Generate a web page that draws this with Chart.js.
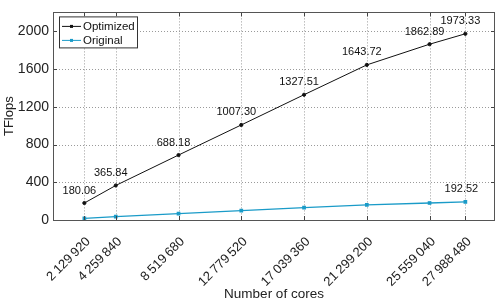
<!DOCTYPE html>
<html>
<head>
<meta charset="utf-8">
<script src="https://cdn.jsdelivr.net/npm/chart.js@4/dist/chart.umd.min.js"></script>
<style>
  html, body { margin: 0; padding: 0; background: #fff; }
  #wrap { width: 500px; height: 303px; }
</style>
</head>
<body>
<div id="wrap"><canvas id="perf"></canvas></div>
<script>
// number of cores (x positions and tick labels)
const cores = [2129920, 4259840, 8519680, 12779520, 17039360, 21299200, 25559040, 27988480];
// TFlops
const optimized = [180.06, 365.84, 688.18, 1007.30, 1327.51, 1643.72, 1862.89, 1973.33];
const original = [17, 35, 68, 100, 131, 161, 180, 192.52];
const yTicks = [0, 400, 800, 1200, 1600, 2000];

const FONT = "'Liberation Sans', Arial, Helvetica, sans-serif";

// group digits with a thin space: 2 129 920
function fmtCores(v) {
  return String(v).replace(/\B(?=(\d{3})+(?!\d))/g, '\u2009');
}

const toPoints = vals => vals.map((v, i) => ({ x: cores[i], y: v }));

// matlab look: dotted grid, frame, inward ticks, value labels, legend
const decor = {
  id: 'decor',
  beforeDatasetsDraw(chart) {
    const ctx = chart.ctx;
    const a = chart.chartArea;
    const xs = chart.scales.x, ys = chart.scales.y;
    ctx.save();
    ctx.strokeStyle = '#9a9a9a';
    ctx.lineWidth = 1;
    ctx.setLineDash([1, 2]);
    ctx.beginPath();
    cores.forEach(c => {
      const px = Math.round(xs.getPixelForValue(c)) + 0.5;
      ctx.moveTo(px, a.top); ctx.lineTo(px, a.bottom);
    });
    yTicks.forEach(t => {
      const py = Math.round(ys.getPixelForValue(t)) + 0.5;
      ctx.moveTo(a.left, py); ctx.lineTo(a.right, py);
    });
    ctx.stroke();
    ctx.restore();
  },
  afterDatasetsDraw(chart) {
    const ctx = chart.ctx;
    const a = chart.chartArea;
    const xs = chart.scales.x, ys = chart.scales.y;
    ctx.save();

    // inward tick marks
    ctx.strokeStyle = '#444';
    ctx.lineWidth = 1;
    ctx.beginPath();
    cores.forEach(c => {
      const px = Math.round(xs.getPixelForValue(c)) + 0.5;
      ctx.moveTo(px, a.bottom); ctx.lineTo(px, a.bottom - 4);
      ctx.moveTo(px, a.top); ctx.lineTo(px, a.top + 4);
    });
    yTicks.forEach(t => {
      const py = Math.round(ys.getPixelForValue(t)) + 0.5;
      ctx.moveTo(a.left, py); ctx.lineTo(a.left + 4, py);
      ctx.moveTo(a.right, py); ctx.lineTo(a.right - 4, py);
    });
    ctx.stroke();

    // box
    ctx.strokeStyle = '#555';
    ctx.lineWidth = 1;
    ctx.strokeRect(Math.round(a.left) + 0.5, Math.round(a.top) + 0.5,
      Math.round(a.right - a.left) - 1, Math.round(a.bottom - a.top));

    // value labels
    ctx.fillStyle = '#111';
    ctx.font = '11px ' + FONT;
    ctx.textAlign = 'center';
    ctx.textBaseline = 'bottom';
    chart.getDatasetMeta(0).data.forEach((pt, i) => {
      ctx.fillText(optimized[i].toFixed(2), pt.x - 5, pt.y - 7);
    });
    const origMeta = chart.getDatasetMeta(1).data;
    const last = origMeta[origMeta.length - 1];
    ctx.fillText(original[original.length - 1].toFixed(2), last.x - 4, last.y - 7);

    // legend box
    const lx = a.left + 6, ly = a.top + 4, lw = 78, lh = 31;
    ctx.fillStyle = '#fff';
    ctx.fillRect(lx, ly, lw, lh);
    ctx.strokeStyle = '#333';
    ctx.strokeRect(lx + 0.5, ly + 0.5, lw, lh);
    const items = [
      { text: 'Optimized', color: '#111' },
      { text: 'Original', color: '#1a9bc8' }
    ];
    ctx.font = '11.5px ' + FONT;
    ctx.textAlign = 'left';
    ctx.textBaseline = 'middle';
    items.forEach((it, i) => {
      const y = ly + 10 + i * 14;
      ctx.strokeStyle = it.color;
      ctx.beginPath();
      ctx.moveTo(lx + 3, y); ctx.lineTo(lx + 22, y);
      ctx.stroke();
      ctx.fillStyle = it.color;
      ctx.fillRect(lx + 11, y - 1.5, 3, 3);
      ctx.fillStyle = '#111';
      ctx.fillText(it.text, lx + 24, y + 0.5);
    });
    ctx.restore();
  }
};

new Chart(document.getElementById('perf'), {
  type: 'scatter',
  data: {
    datasets: [
      {
        label: 'Optimized',
        data: toPoints(optimized),
        showLine: true,
        borderColor: '#111',
        backgroundColor: '#111',
        borderWidth: 1,
        pointRadius: 1.6,
        pointHoverRadius: 1.6
      },
      {
        label: 'Original',
        data: toPoints(original),
        showLine: true,
        borderColor: '#1a9bc8',
        backgroundColor: '#1a9bc8',
        borderWidth: 1.3,
        pointStyle: 'rect',
        pointRadius: 1.7,
        pointHoverRadius: 1.7
      }
    ]
  },
  options: {
    responsive: true,
    maintainAspectRatio: false,
    animation: false,
    events: [],
    layout: { padding: { top: 4, right: 5, left: 0, bottom: 0 } },
    plugins: {
      legend: { display: false },
      tooltip: { enabled: false }
    },
    scales: {
      x: {
        type: 'linear',
        min: 0,
        max: 30000000,
        afterBuildTicks: s => { s.ticks = cores.map(v => ({ value: v })); },
        afterFit: s => { s.height = 83; },
        ticks: {
          autoSkip: false,
          minRotation: 45,
          maxRotation: 45,
          padding: 6,
          labelOffset: 4,
          color: '#222',
          font: { family: FONT, size: 13 },
          callback: v => fmtCores(v)
        },
        grid: { display: false },
        border: { display: false },
        title: {
          display: true,
          text: 'Number of cores',
          color: '#222',
          font: { family: FONT, size: 13.5 },
          padding: { top: 0, bottom: 1 }
        }
      },
      y: {
        min: 0,
        max: 2200,
        afterBuildTicks: s => { s.ticks = yTicks.map(v => ({ value: v })); },
        afterFit: s => { s.width = 53; },
        ticks: {
          padding: 4,
          color: '#222',
          font: { family: FONT, size: 14 },
          callback: v => String(v)
        },
        grid: { display: true, drawOnChartArea: false, drawTicks: false },
        border: { display: false },
        title: {
          display: true,
          text: 'TFlops',
          color: '#222',
          font: { family: FONT, size: 13 },
          padding: { top: 2, bottom: 0 }
        }
      }
    }
  },
  plugins: [decor]
});
</script>
</body>
</html>
